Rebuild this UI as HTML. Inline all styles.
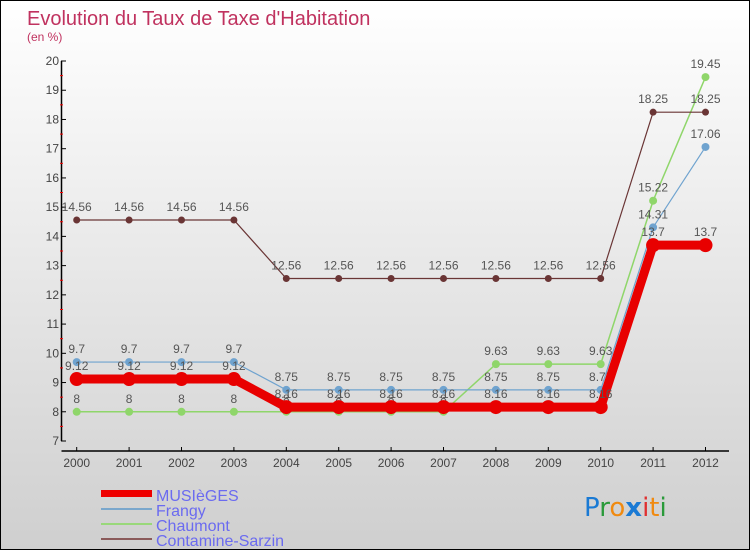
<!DOCTYPE html>
<html><head><meta charset="utf-8"><style>
body{margin:0}
#c{position:relative;width:748px;height:548px;border:1px solid #000;background:linear-gradient(#fff,#cfcfcf);font-family:"Liberation Sans",sans-serif;overflow:hidden}
</style></head><body>
<div id="c">
<svg width="748" height="548" style="position:absolute;left:0;top:0">
<text x="26" y="24" font-size="20" fill="#c0325f">Evolution du Taux de Taxe d'Habitation</text>
<text x="26" y="40" font-size="12" fill="#c0325f">(en %)</text>
<g id="axes"></g><g id="series"></g>
<g>
<rect x="100" y="489" width="51" height="7" fill="#e00"/>
<text x="155" y="500" font-size="16" fill="#6b6bf0">MUSIèGES</text>
<rect x="100" y="507" width="51" height="2" fill="#7aa7cc"/>
<text x="155" y="515" font-size="16" fill="#6b6bf0">Frangy</text>
<rect x="100" y="522" width="51" height="2" fill="#99d87a"/>
<text x="155" y="530" font-size="16" fill="#6b6bf0">Chaumont</text>
<rect x="100" y="537" width="51" height="2" fill="#8a5a5a"/>
<text x="155" y="545" font-size="16" fill="#6b6bf0">Contamine-Sarzin</text>
</g>
<g font-size="26" font-family="DejaVu Sans,sans-serif">
<text x="583" y="515"><tspan fill="#1a7ad4">P</tspan><tspan fill="#2a9a3a">r</tspan><tspan fill="#f08a10">o</tspan><tspan fill="#1a7ad4" font-weight="bold">x</tspan><tspan fill="#e03030">i</tspan><tspan fill="#f08a10">t</tspan><tspan fill="#2a9a3a">i</tspan></text>
</g>
</svg>
</div>
<script>
const years=[2000,2001,2002,2003,2004,2005,2006,2007,2008,2009,2010,2011,2012];
const yTicks=[7,8,9,10,11,12,13,14,15,16,17,18,19,20];
const musieges=[9.12,9.12,9.12,9.12,8.16,8.16,8.16,8.16,8.16,8.16,8.16,13.7,13.7];
const frangy=[9.7,9.7,9.7,9.7,8.75,8.75,8.75,8.75,8.75,8.75,8.75,14.31,17.06];
const chaumont=[8,8,8,8,8,8,8,8,9.63,9.63,9.63,15.22,19.45];
const contamine=[14.56,14.56,14.56,14.56,12.56,12.56,12.56,12.56,12.56,12.56,12.56,18.25,18.25];
const NS="http://www.w3.org/2000/svg";
const X=i=>75.7+i*52.4, Y=v=>440-(v-7)*29.23;
function mk(tag,at,par){const e=document.createElementNS(NS,tag);for(const k in at)e.setAttribute(k,at[k]);par.appendChild(e);return e;}
const ax=document.getElementById('axes');
let yl=mk('line',{x1:60.5,y1:Y(20),x2:60.5,y2:Y(7),stroke:'#000','stroke-width':1.5},ax);


let xl=mk('line',{x1:60.5,y1:450,x2:728,y2:450,stroke:'#000','stroke-width':1.5},ax);


yTicks.forEach(v=>{
 mk('line',{x1:60,y1:Y(v),x2:65,y2:Y(v),stroke:'#000'},ax);
 if(v<20)mk('line',{x1:59,y1:Y(v+0.5),x2:62,y2:Y(v+0.5),stroke:'#f00'},ax);
 const t=mk('text',{x:58,y:Y(v)+4,'font-size':12,fill:'#444','text-anchor':'end'},ax);t.textContent=v;
 
 
});
years.forEach((yr,i)=>{
 mk('line',{x1:X(i),y1:446,x2:X(i),y2:450,stroke:'#000'},ax);
 const t=mk('text',{x:X(i),y:466,'font-size':12,fill:'#444','text-anchor':'middle'},ax);t.textContent=yr;
 
 
});
const sg=document.getElementById('series');
function series(vals,color,w,r,name){
 const g=mk('g',{},sg);
 
 
 mk('polyline',{points:vals.map((v,i)=>X(i)+','+Y(v)).join(' '),fill:'none',stroke:color,'stroke-width':w},g);
 vals.forEach((v,i)=>{
  const c=mk('circle',{cx:X(i),cy:Y(v),r:r,fill:color},g);
  
  
  const t=mk('text',{x:X(i),y:Y(v)-9,'font-size':12,fill:'#555','text-anchor':'middle'},g);t.textContent=v;
 });
}
series(chaumont,'#8fd66a',1.5,4,'chaumont');
series(contamine,'#6a3535',1.2,3.5,'contamine');
series(frangy,'#6fa3cf',1.2,4,'frangy');
series(musieges,'#e80000',9,7,'musieges');
</script>
</body></html>
